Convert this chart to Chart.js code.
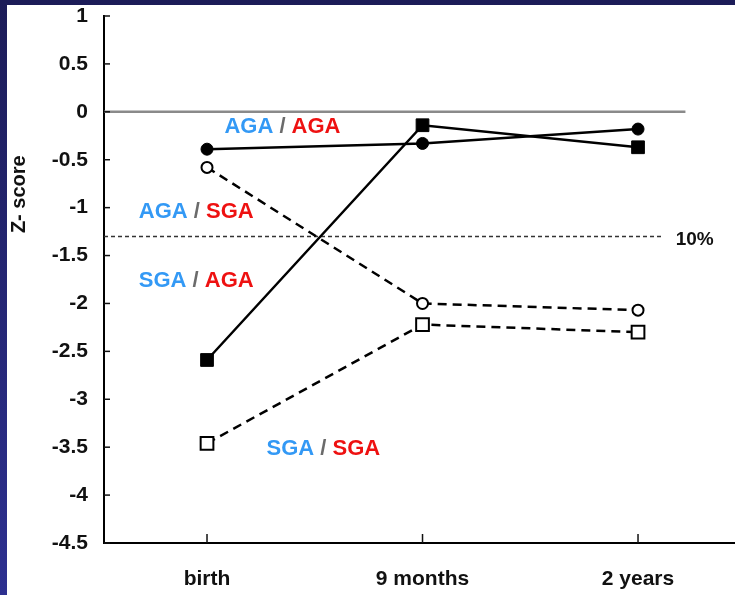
<!DOCTYPE html>
<html>
<head>
<meta charset="utf-8">
<script src="https://cdn.jsdelivr.net/npm/chart.js@4"></script>
<style>
  html, body { margin: 0; padding: 0; }
  body {
    width: 735px; height: 595px; overflow: hidden; position: relative;
    background: linear-gradient(to bottom, #1c1c58, #2d3090);
  }
  #zchart { position: absolute; left: 7px; top: 5px; background: #fff; }
</style>
</head>
<body>
<canvas id="zchart" width="728" height="590"></canvas>
<script>
// categories and Z-score values
const categories = ['birth', '9 months', '2 years'];
const agaAga = [-0.39, -0.33, -0.18];   // filled circles, solid
const sgaAga = [-2.59, -0.14, -0.37];   // filled squares, solid
const agaSga = [-0.58, -2.00, -2.07];   // open circles, dashed
const sgaSga = [-3.46, -2.22, -2.30];   // open squares, dashed
const yTicks = [1, 0.5, 0, -0.5, -1, -1.5, -2, -2.5, -3, -3.5, -4, -4.5];
const cutoff10 = -1.3;
const groupNames = [['AGA', 'AGA'], ['AGA', 'SGA'], ['SGA', 'AGA'], ['SGA', 'SGA']];

const xMin = -0.478, xMax = 2.45;
const toPts = arr => arr.map((v, i) => ({ x: i, y: v }));

const FONT = '"Liberation Sans", Arial, sans-serif';

const extras = {
  id: 'extras',
  afterDraw(chart) {
    const { ctx, scales: { x, y } } = chart;
    ctx.save();
    // inward tick marks
    ctx.strokeStyle = '#111';
    ctx.lineWidth = 1.5;
    yTicks.forEach(v => {
      const py = y.getPixelForValue(v);
      ctx.beginPath(); ctx.moveTo(x.left, py); ctx.lineTo(x.left + 6, py); ctx.stroke();
    });
    categories.forEach((c, i) => {
      const px = x.getPixelForValue(i);
      ctx.beginPath(); ctx.moveTo(px, y.bottom); ctx.lineTo(px, y.bottom - 9); ctx.stroke();
    });

    // 10% label
    ctx.fillStyle = '#111';
    ctx.font = 'bold 19px ' + FONT;
    ctx.textAlign = 'left';
    ctx.textBaseline = 'middle';
    ctx.fillText('10%', x.getPixelForValue(2.175), y.getPixelForValue(cutoff10) + 3);

    // group labels (birth / follow-up)
    const anchors = [[0.35, -0.16], [-0.05, -1.05], [-0.05, -1.77], [0.54, -3.52]];
    ctx.font = 'bold 22px ' + FONT;
    groupNames.forEach((g, k) => {
      const parts = [[g[0], '#3399f5'], [' / ', '#6b6b6b'], [g[1], '#ee1111']];
      const total = parts.reduce((s, p) => s + ctx.measureText(p[0]).width, 0);
      let px = x.getPixelForValue(anchors[k][0]) - total / 2;
      const py = y.getPixelForValue(anchors[k][1]);
      parts.forEach(p => {
        ctx.fillStyle = p[1];
        ctx.fillText(p[0], px, py);
        px += ctx.measureText(p[0]).width;
      });
    });

    // y axis title
    ctx.translate(12, y.getPixelForValue(-0.86));
    ctx.rotate(-Math.PI / 2);
    ctx.textAlign = 'center';
    ctx.fillStyle = '#111';
    ctx.font = 'bold 20px ' + FONT;
    ctx.fillText('Z- score', 0, 0);
    ctx.restore();
  }
};

new Chart(document.getElementById('zchart').getContext('2d'), {
  type: 'line',
  data: {
    datasets: [
      {
        label: 'AGA / AGA', data: toPts(agaAga),
        borderColor: '#000', borderWidth: 2.5,
        pointStyle: 'circle', pointRadius: 6,
        pointBackgroundColor: '#000', pointBorderColor: '#000', pointBorderWidth: 1
      },
      {
        label: 'SGA / AGA', data: toPts(sgaAga),
        borderColor: '#000', borderWidth: 2.5,
        pointStyle: 'rect', pointRadius: 9,
        pointBackgroundColor: '#000', pointBorderColor: '#000', pointBorderWidth: 1
      },
      {
        label: 'AGA / SGA', data: toPts(agaSga),
        borderColor: '#000', borderWidth: 2.5, borderDash: [9, 6],
        pointStyle: 'circle', pointRadius: 5.5,
        pointBackgroundColor: '#fff', pointBorderColor: '#000', pointBorderWidth: 2
      },
      {
        label: 'SGA / SGA', data: toPts(sgaSga),
        borderColor: '#000', borderWidth: 2.5, borderDash: [9, 6],
        pointStyle: 'rect', pointRadius: 9,
        pointBackgroundColor: '#fff', pointBorderColor: '#000', pointBorderWidth: 2
      },
      {
        label: 'zero', data: [{ x: xMin, y: 0 }, { x: 2.22, y: 0 }],
        borderColor: '#8a8a8a', borderWidth: 2.5, pointRadius: 0
      },
      {
        label: '10%', data: [{ x: xMin, y: cutoff10 }, { x: 2.12, y: cutoff10 }],
        borderColor: '#333', borderWidth: 1.5, borderDash: [4, 3], pointRadius: 0
      }
    ]
  },
  options: {
    responsive: false,
    animation: false,
    layout: { autoPadding: false, padding: { top: 11, right: 0, left: 0, bottom: 0 } },
    plugins: { legend: { display: false }, tooltip: { enabled: false } },
    scales: {
      x: {
        type: 'linear', min: xMin, max: xMax,
        afterBuildTicks: s => { s.ticks = categories.map((c, i) => ({ value: i })); },
        afterFit: s => { s.height = 52; s.paddingLeft = 0; s.paddingRight = 0; },
        grid: { display: false, drawTicks: false },
        border: { display: true, color: '#000', width: 2 },
        ticks: {
          padding: 26, color: '#111',
          font: { family: FONT, size: 21, weight: 'bold', lineHeight: 1 },
          callback: v => categories[v] ?? ''
        }
      },
      y: {
        min: -4.5, max: 1,
        afterBuildTicks: s => { s.ticks = yTicks.map(v => ({ value: v })); },
        afterFit: s => { s.width = 97; s.paddingTop = 0; s.paddingBottom = 0; },
        grid: { display: false, drawTicks: false },
        border: { display: true, color: '#000', width: 2 },
        ticks: {
          padding: 16, color: '#111',
          font: { family: FONT, size: 21, weight: 'bold', lineHeight: 1 },
          callback: v => String(v)
        }
      }
    }
  },
  plugins: [extras]
});
</script>
</body>
</html>
